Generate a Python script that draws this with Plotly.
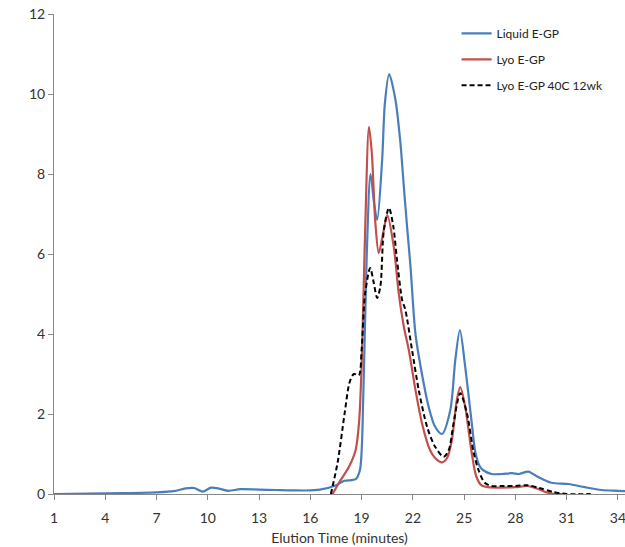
import plotly.graph_objects as go

# Liquid E-GP
liquid_x = [1, 3, 5, 7, 8, 8.7, 9.2, 9.7, 10.2, 10.7, 11.2, 11.9, 13, 14, 15, 16, 16.7, 17.5, 18.0,
            18.65, 18.9, 19.1, 19.3, 19.52, 19.72, 19.91, 20.2, 20.36, 20.61, 20.98, 21.27, 21.47,
            21.66, 21.86, 22.15, 22.53, 22.92, 23.3, 23.7, 24.19, 24.48, 24.75, 25.06, 25.45, 25.65,
            25.9, 26.1, 26.6, 27.2, 27.8, 28.2, 28.75, 29.3, 30.1, 31.1, 32.06, 33.03, 34, 34.41]
liquid_y = [0.0, 0.01, 0.02, 0.04, 0.07, 0.14, 0.15, 0.06, 0.16, 0.13, 0.08, 0.12, 0.11, 0.1, 0.09,
            0.09, 0.12, 0.22, 0.33, 0.37, 0.6, 2.5, 6.0, 8.0, 7.3, 6.85, 8.35, 9.77, 10.5, 9.85, 8.77,
            7.68, 6.68, 5.68, 4.0, 3.0, 2.18, 1.68, 1.5, 2.1, 3.35, 4.1, 3.18, 1.75, 1.05, 0.7, 0.6,
            0.5, 0.5, 0.52, 0.5, 0.56, 0.43, 0.28, 0.25, 0.17, 0.1, 0.08, 0.07]

# Lyo E-GP
lyo_x = [17.3, 17.7, 18.26, 18.65, 18.85, 19.0, 19.2, 19.43, 19.6, 19.8, 20.0, 20.25, 20.5, 20.88,
         21.17, 21.47, 21.76, 22.15, 22.53, 23.0, 23.3, 23.7, 24.0, 24.28, 24.57, 24.77, 25.06,
         25.45, 25.7, 26.0, 26.4, 27, 28, 28.7, 29.3, 29.9, 30.3, 31]
lyo_y = [0.0, 0.3, 0.68, 1.1, 1.8, 3.2, 6.5, 9.18, 8.5, 6.8, 6.02, 6.5, 6.97, 6.18, 5.02, 4.18, 3.6,
         2.6, 1.77, 1.1, 0.9, 0.79, 0.9, 1.35, 2.35, 2.67, 2.18, 1.0, 0.45, 0.22, 0.17, 0.16, 0.17,
         0.2, 0.13, 0.03, 0.0, 0.0]

# Lyo E-GP 40C 12wk
lyo40_x = [17.2, 17.6, 18.0, 18.3, 18.55, 18.84, 19.0, 19.2, 19.5, 19.7, 19.91, 20.1, 20.3, 20.6,
           20.85, 21.07, 21.37, 21.56, 21.95, 22.34, 22.83, 23.3, 23.8, 24.1, 24.38, 24.77, 25.16,
           25.55, 25.84, 26.2, 26.6, 27.2, 28, 28.7, 29.4, 30.2, 31.0, 32.4]
lyo40_y = [0.0, 0.8, 2.0, 2.8, 3.0, 2.97, 3.6, 5.0, 5.65, 5.3, 4.9, 5.2, 6.6, 7.15, 6.7, 5.85, 4.85,
           4.6, 3.6, 2.6, 1.68, 1.18, 0.93, 1.1, 1.77, 2.52, 2.02, 1.05, 0.6, 0.28, 0.2, 0.2, 0.2,
           0.22, 0.15, 0.05, 0.0, 0.0]

x_ticks = [1, 4, 7, 10, 13, 16, 19, 22, 25, 28, 31, 34]
y_ticks = [0, 2, 4, 6, 8, 10, 12]

FONT = "Lato"

fig = go.Figure()
fig.add_trace(go.Scatter(x=liquid_x, y=liquid_y, mode="lines", name="Liquid E-GP", legendgroup="a",
                         line=dict(color="#4A7EBB", width=2.2, shape="spline", smoothing=0.8)))
fig.add_trace(go.Scatter(x=lyo_x, y=lyo_y, mode="lines", name="Lyo E-GP", legendgroup="b",
                         line=dict(color="#C0504D", width=2.2, shape="spline", smoothing=0.8)))
fig.add_trace(go.Scatter(x=lyo40_x, y=lyo40_y, mode="lines", name="Lyo E-GP 40C 12wk", legendgroup="c",
                         line=dict(color="#000000", width=2, dash="5px,3px", shape="spline", smoothing=0.8)))

fig.update_layout(
    width=625, height=547,
    margin=dict(l=54, r=0, t=14, b=53),
    paper_bgcolor="white", plot_bgcolor="white",
    font=dict(family=FONT, size=14, color="#333333"),
    legend=dict(x=0.705, y=0.99, xanchor="left", yanchor="top",
                font=dict(family=FONT, size=12, color="#222222"),
                bgcolor="rgba(0,0,0,0)", tracegroupgap=7),
    xaxis=dict(range=[1, 34.41], tickvals=x_ticks, ticktext=[str(t) for t in x_ticks],
               showgrid=False, zeroline=False, showline=True, linecolor="#888888", linewidth=1,
               ticks="outside", ticklen=5, tickcolor="#888888", automargin=False,
               ticklabeloverflow="allow", ticklabelstandoff=6,
               title=dict(text="Elution Time (minutes)", font=dict(family=FONT, size=14), standoff=8)),
    yaxis=dict(range=[0, 12], tickvals=y_ticks, showgrid=False, zeroline=False, showline=True,
               linecolor="#888888", linewidth=1, ticks="outside", ticklen=5, tickcolor="#888888",
               automargin=False, ticklabeloverflow="allow"),
)

fig.write_html("out.html", config={"displayModeBar": False},
               post_script="document.body.style.margin='0';")
